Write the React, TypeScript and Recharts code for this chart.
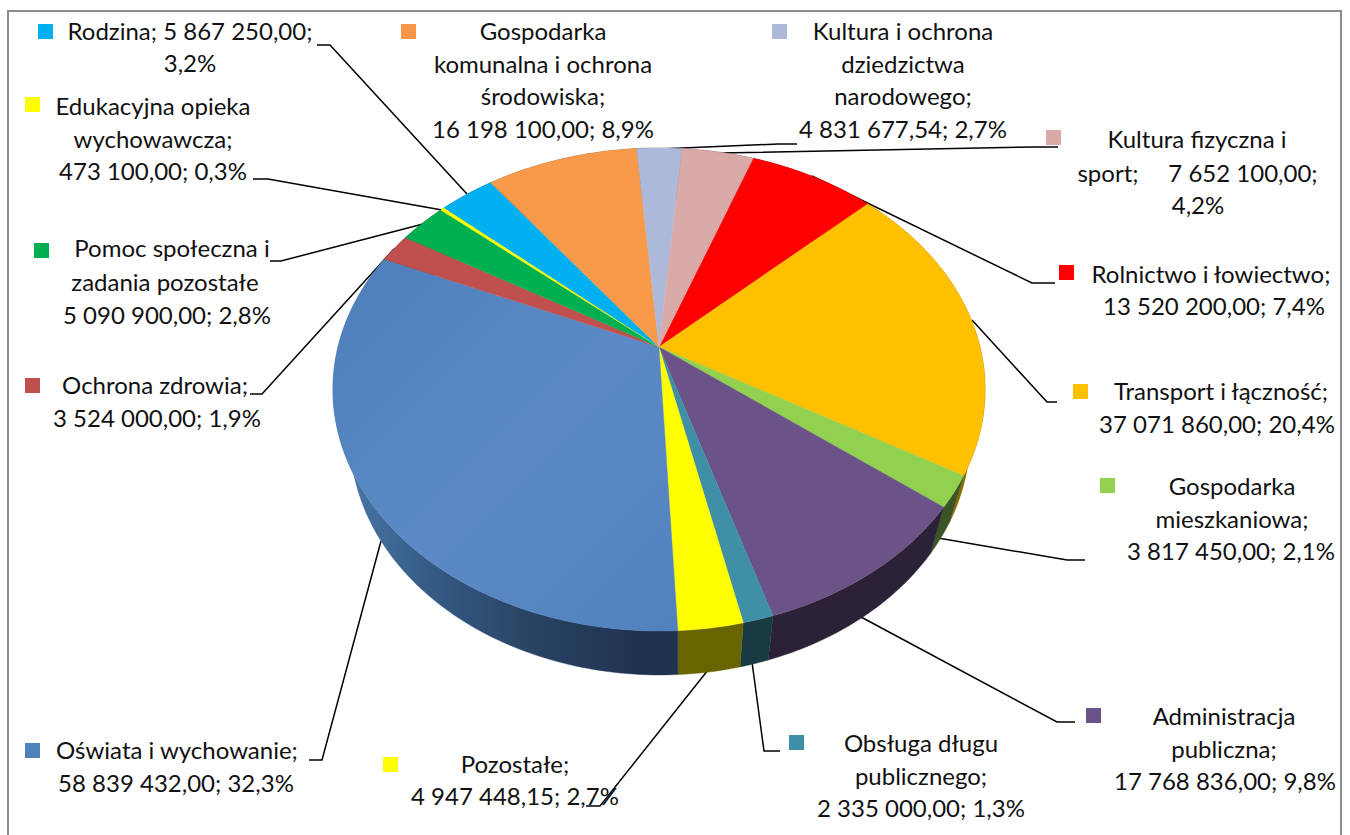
import React from 'react';
import { Pie, PieChart } from 'recharts';

const CATEGORIES = [
  'Rolnictwo i łowiectwo',
  'Transport i łączność',
  'Gospodarka mieszkaniowa',
  'Administracja publiczna',
  'Obsługa długu publicznego',
  'Pozostałe',
  'Oświata i wychowanie',
  'Ochrona zdrowia',
  'Pomoc społeczna i zadania pozostałe',
  'Edukacyjna opieka wychowawcza',
  'Rodzina',
  'Gospodarka komunalna i ochrona środowiska',
  'Kultura i ochrona dziedzictwa narodowego',
  'Kultura fizyczna i sport',
];
const VALUES = [
  13520200, 37071860, 3817450, 17768836, 2335000, 4947448.15, 58839432, 3524000, 5090900, 473100, 5867250, 16198100,
  4831677.54, 7652100,
];
const TOP_COLORS = [
  '#ff0000', '#ffc000', '#92d050', '#6b5287', '#3f8fa6', '#ffff00', 'url(#oswiataTop)',
  '#c0504d', '#00b050', '#ffff00', '#00b0f0', '#f99a4b', '#adb9d9', '#d9aaa8',
];
const WALL_COLORS = [
  '#800000', '#8a6a00', '#3c5526', '#2c2238', '#183a42', '#686400', 'url(#oswiataWall)',
  '#602826', '#005828', '#808000', '#005878', '#7c4b23', '#57606d', '#6d5554',
];
const KEY_COLORS = [
  '#ff0000', '#ffc000', '#92d050', '#6b5287', '#3f8fa6', '#ffff00', '#4f81bd',
  '#c0504d', '#00b050', '#ffff00', '#00b0f0', '#f79646', '#adb9d9', '#d9aaa8',
];
const LABEL_LINES = [
  ['Rolnictwo i łowiectwo;', '13 520 200,00; 7,4%'],
  ['Transport i łączność;', '37 071 860,00; 20,4%'],
  ['Gospodarka', 'mieszkaniowa;', '3 817 450,00; 2,1%'],
  ['Administracja', 'publiczna;', '17 768 836,00; 9,8%'],
  ['Obsługa długu', 'publicznego;', '2 335 000,00; 1,3%'],
  ['Pozostałe;', '4 947 448,15; 2,7%'],
  ['Oświata i wychowanie;', '58 839 432,00; 32,3%'],
  ['Ochrona zdrowia;', '3 524 000,00; 1,9%'],
  ['Pomoc społeczna i', 'zadania pozostałe', '5 090 900,00; 2,8%'],
  ['Edukacyjna opieka', 'wychowawcza;', '473 100,00; 0,3%'],
  ['Rodzina; 5 867 250,00;', '3,2%'],
  ['Gospodarka', 'komunalna i ochrona', 'środowiska;', '16 198 100,00; 8,9%'],
  ['Kultura i ochrona', 'dziedzictwa', 'narodowego;', '4 831 677,54; 2,7%'],
  ['Kultura fizyczna i', 'sport;', '7 652 100,00;', '4,2%'],
];

// where each label sits: legend key corner, then [centre x, baseline] per line
const LABEL_KEYS = [
  [1059, 265], [1073, 384], [1100, 478], [1086, 708], [789, 735], [383, 757], [25, 743],
  [25, 378], [34, 243], [25, 97], [38, 24], [401, 24], [772, 24], [1046, 130],
];
const LABEL_AT = [
  [[1211, 283], [1214, 315]],
  [[1221, 400], [1217, 433]],
  [[1232, 495], [1232, 528], [1231, 560]],
  [[1224, 725], [1224, 758], [1225, 790]],
  [[921, 752], [921, 785], [921, 817]],
  [[515, 773], [515, 805]],
  [[177, 759], [176, 792]],
  [[155, 394], [157, 427]],
  [[172, 257], [165, 291], [167, 324]],
  [[153, 115], [153, 148], [153, 180]],
  [[190, 40], [190, 72]],
  [[543, 40], [543, 73], [543, 105], [543, 138]],
  [[903, 40], [903, 73], [903, 105], [903, 138]],
  [[1197, 148], [1108, 182], [1243, 182], [1198, 214]],
];
const LEADERS = [
  [[1055, 283], [1032, 283], [812, 176]],
  [[1057, 402], [1047, 402], [972, 320]],
  [[1085, 560], [1067, 560], [938, 538]],
  [[1075, 722], [1057, 722], [861, 617]],
  [[780, 751], [764, 751], [752, 662]],
  [[586, 806], [600, 806], [708, 670]],
  [[309, 760], [322, 760], [381, 541]],
  [[250, 394], [262, 394], [394, 249]],
  [[270, 261], [281, 261], [423, 224]],
  [[253, 179], [268, 179], [442, 210]],
  [[317, 45], [330, 45], [467, 194]],
  [[797, 144], [778, 144], [659, 149]],
  [[1058, 147], [1035, 147], [718, 153]],
];

const rows = CATEGORIES.map((name, i) => ({ name, value: VALUES[i], fill: TOP_COLORS[i] }));
const wallRows = CATEGORIES.map((name, i) => ({ name, value: VALUES[i], fill: WALL_COLORS[i] }));

const FONT = 'Lato, sans-serif';
const PERSP = 0.176;
const TOP_TILT = 0.729;
const WALL_TILT = 0.753;
const START_ANGLE = 70;

// Excel-style 3D pie: project the flat circle onto the tilted plane
function project(cx: number, cy: number, r: number, tilt: number, angle: number) {
  const rad = ((90 - angle) * Math.PI) / 180;
  const d = 1 + PERSP * Math.cos(rad);
  return [cx + (r * Math.sin(rad)) / d, cy - (r * tilt * Math.cos(rad)) / d];
}

function arcPoints(cx: number, cy: number, r: number, tilt: number, from: number, to: number) {
  const steps = Math.max(2, Math.ceil(Math.abs(to - from)));
  const pts = [];
  for (let i = 0; i <= steps; i++) pts.push(project(cx, cy, r, tilt, from + ((to - from) * i) / steps));
  return pts;
}

const toPath = (pts: number[][]) => pts.map((p, i) => `${i ? 'L' : 'M'}${p[0].toFixed(2)},${p[1].toFixed(2)}`).join('') + 'Z';

function TopSlice(props: any) {
  const { cx, cy, outerRadius, startAngle, endAngle, fill } = props;
  const pts = [[cx, cy], ...arcPoints(cx, cy, outerRadius, TOP_TILT, startAngle, endAngle)];
  return <path d={toPath(pts)} fill={fill} stroke={fill} strokeWidth={0.4} />;
}

function WallSlice(props: any) {
  const { cx, cy, outerRadius, startAngle, endAngle, fill } = props;
  const top = arcPoints(cx, cy, outerRadius, TOP_TILT, startAngle, endAngle);
  const bottom = arcPoints(cx + 1, cy + 49.3, outerRadius * 0.95, WALL_TILT, endAngle, startAngle);
  return <path d={toPath([...top, ...bottom])} fill={fill} stroke={fill} strokeWidth={0.4} />;
}

function Labels() {
  return (
    <g fontFamily={FONT} fontSize={24} fill="#111">
      {LABEL_LINES.map((lines, i) => (
        <g key={i}>
          <rect x={LABEL_KEYS[i][0]} y={LABEL_KEYS[i][1]} width={15} height={15} fill={KEY_COLORS[i]} />
          {lines.map((line, j) => (
            <text key={j} x={LABEL_AT[i][j][0]} y={LABEL_AT[i][j][1]} textAnchor="middle">
              {line}
            </text>
          ))}
        </g>
      ))}
      {LEADERS.map((pts, i) => (
        <polyline key={i} points={pts.join(' ')} fill="none" stroke="#000" strokeWidth={1.5} />
      ))}
    </g>
  );
}

export default function App() {
  return (
    <div style={{ position: 'absolute', left: 0, top: 0, width: 1350, height: 835, background: '#fff', overflow: 'hidden' }}>
      <div style={{ position: 'absolute', left: 7, top: 10, width: 1335, height: 840, border: '2px solid #8c8c8c', boxSizing: 'border-box' }} />
      <div style={{ position: 'absolute', left: 0, top: 0 }}>
        <PieChart width={1350} height={835} margin={{ top: 0, right: 0, bottom: 0, left: 0 }}>
          <defs>
            <linearGradient id="oswiataWall" gradientUnits="userSpaceOnUse" x1="345" y1="0" x2="640" y2="0">
              <stop offset="0" stopColor="#4a76a6" />
              <stop offset="0.3" stopColor="#345a84" />
              <stop offset="0.6" stopColor="#2a4566" />
              <stop offset="1" stopColor="#1e324e" />
            </linearGradient>
            <linearGradient id="oswiataTop" gradientUnits="userSpaceOnUse" x1="340" y1="280" x2="680" y2="620">
              <stop offset="0" stopColor="#4f7fba" />
              <stop offset="0.5" stopColor="#5b8ac6" />
              <stop offset="1" stopColor="#5282be" />
            </linearGradient>
          </defs>
          <Pie
            data={wallRows}
            dataKey="value"
            nameKey="name"
            cx={659}
            cy={347}
            outerRadius={321}
            startAngle={START_ANGLE}
            endAngle={START_ANGLE - 360}
            shape={WallSlice}
            isAnimationActive={false}
          />
          <Pie
            data={rows}
            dataKey="value"
            nameKey="name"
            cx={659}
            cy={347}
            outerRadius={321}
            startAngle={START_ANGLE}
            endAngle={START_ANGLE - 360}
            shape={TopSlice}
            isAnimationActive={false}
          />
          <Labels />
        </PieChart>
      </div>
    </div>
  );
}
